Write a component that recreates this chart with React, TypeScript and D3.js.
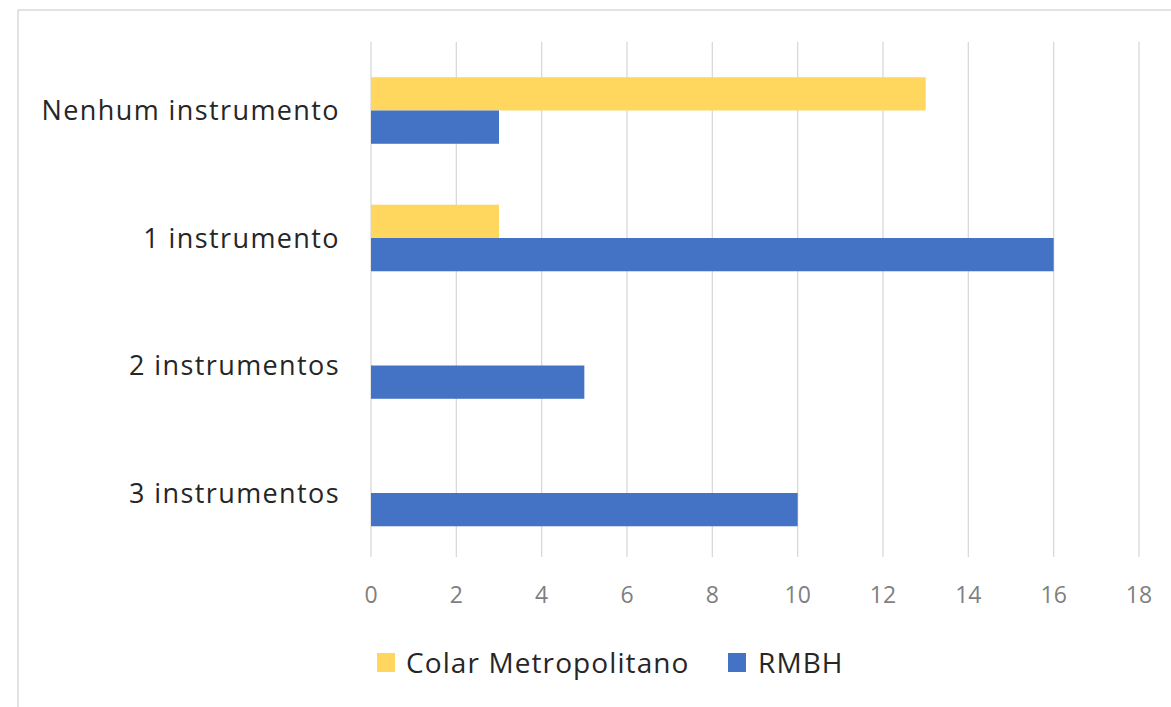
import React from "react";
import * as d3 from "d3";

const categories = ["Nenhum instrumento", "1 instrumento", "2 instrumentos", "3 instrumentos"];
const seriesNames = ["Colar Metropolitano", "RMBH"];
const colarValues = [13, 3, 0, 0];
const rmbhValues = [3, 16, 5, 10];
const xTicks = [0, 2, 4, 6, 8, 10, 12, 14, 16, 18];

const colors = ["#FFD75E", "#4472C4"];
const FONT = "'Open Sans', 'DejaVu Sans', sans-serif";

export default function App() {
  const W = 1171;
  const H = 707;
  const x = d3.scaleLinear().domain([0, 18]).range([371, 1139]);
  const y = d3
    .scaleBand<string>()
    .domain(categories)
    .range([46.75, 556.75])
    .paddingInner(0.478)
    .paddingOuter(0.239);
  const inner = d3
    .scaleBand<string>()
    .domain(seriesNames)
    .range([0, y.bandwidth()]);
  const series = [colarValues, rmbhValues];

  const gridTop = 42;
  const gridBottom = 557;

  const legendItems = [
    { name: seriesNames[0], color: colors[0], sx: 377, tx: 406 },
    { name: seriesNames[1], color: colors[1], sx: 728, tx: 758 },
  ];

  return (
    <svg
      width={W}
      height={H}
      style={{ position: "absolute", left: 0, top: 0, background: "#fff" }}
      fontFamily={FONT}
    >
      <rect x={0} y={0} width={W} height={H} fill="#fff" />
      <rect x={18} y={10} width={W + 20} height={H + 20} fill="none" stroke="#d9d9d9" strokeWidth={1.5} />
      {xTicks.map((t) => (
        <line
          key={"g" + t}
          x1={x(t)}
          x2={x(t)}
          y1={gridTop}
          y2={gridBottom}
          stroke="#d9d9d9"
          strokeWidth={1.3}
        />
      ))}
      {categories.map((c, i) => (
        <g key={c}>
          {series.map((vals, s) => (
            <rect
              key={s}
              x={x(0)}
              y={(y(c) as number) + (inner(seriesNames[s]) as number)}
              width={x(vals[i]) - x(0)}
              height={inner.bandwidth()}
              fill={colors[s]}
            />
          ))}
          <text
            x={340}
            y={(y(c) as number) + y.bandwidth() / 2 + 9.6}
            textAnchor="end"
            fontSize={27}
            letterSpacing={1.4}
            fill="#262626"
          >
            {c}
          </text>
        </g>
      ))}
      {xTicks.map((t) => (
        <text
          key={"t" + t}
          x={x(t)}
          y={603}
          textAnchor="middle"
          fontSize={23}
          fill="#7f7f7f"
        >
          {t}
        </text>
      ))}
      {legendItems.map((l) => (
        <g key={l.name}>
          <rect x={l.sx} y={653} width={18} height={19} fill={l.color} />
          <text x={l.tx} y={673} fontSize={28} letterSpacing={1.1} fill="#262626">
            {l.name}
          </text>
        </g>
      ))}
    </svg>
  );
}
